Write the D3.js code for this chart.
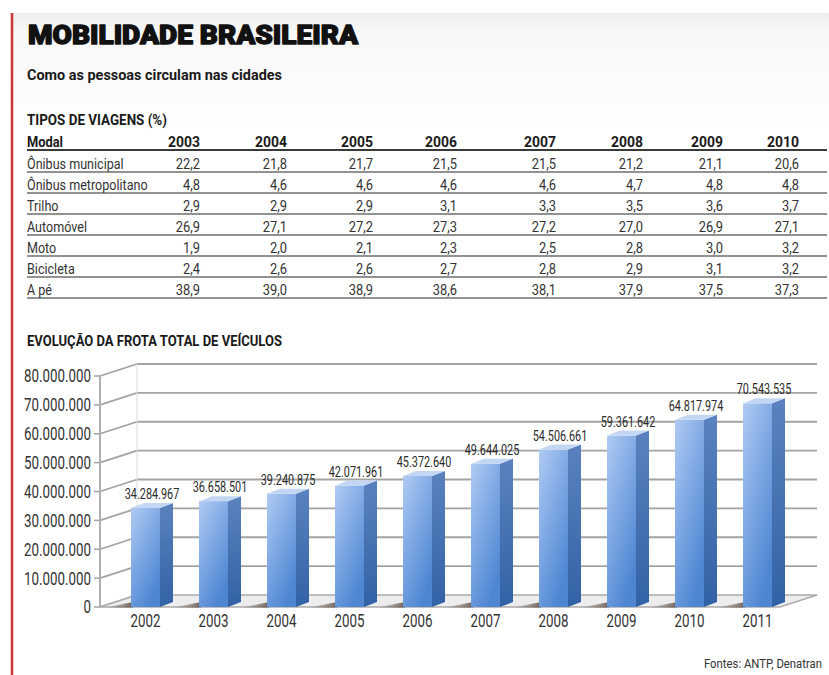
<!DOCTYPE html>
<html lang="pt-BR">
<head>
<meta charset="utf-8">
<script src="https://cdn.jsdelivr.net/npm/d3@7"></script>
<style>
  html, body { margin: 0; padding: 0; background: #ffffff; }
  svg { display: block; }
  text { font-family: Roboto, "Open Sans", "Liberation Sans", sans-serif; }
</style>
</head>
<body>
<svg id="chart" width="829" height="675"></svg>
<script>
// ---- Tipos de viagens (%) ----
const anos = ["2003", "2004", "2005", "2006", "2007", "2008", "2009", "2010"];
const modais = ["Ônibus municipal", "Ônibus metropolitano", "Trilho", "Automóvel", "Moto", "Bicicleta", "A pé"];
const onibusMunicipal     = [22.2, 21.8, 21.7, 21.5, 21.5, 21.2, 21.1, 20.6];
const onibusMetropolitano = [4.8, 4.6, 4.6, 4.6, 4.6, 4.7, 4.8, 4.8];
const trilho              = [2.9, 2.9, 2.9, 3.1, 3.3, 3.5, 3.6, 3.7];
const automovel           = [26.9, 27.1, 27.2, 27.3, 27.2, 27.0, 26.9, 27.1];
const moto                = [1.9, 2.0, 2.1, 2.3, 2.5, 2.8, 3.0, 3.2];
const bicicleta           = [2.4, 2.6, 2.6, 2.7, 2.8, 2.9, 3.1, 3.2];
const aPe                 = [38.9, 39.0, 38.9, 38.6, 38.1, 37.9, 37.5, 37.3];

// ---- Evolução da frota total de veículos ----
const anosFrota = ["2002", "2003", "2004", "2005", "2006", "2007", "2008", "2009", "2010", "2011"];
const frota = [34284967, 36658501, 39240875, 42071961, 45372640, 49644025, 54506661, 59361642, 64817974, 70543535];
const ticksFrota = [0, 10000000, 20000000, 30000000, 40000000, 50000000, 60000000, 70000000, 80000000];

const linhasTabela = [onibusMunicipal, onibusMetropolitano, trilho, automovel, moto, bicicleta, aPe];

const br = d3.formatLocale({ decimal: ",", thousands: ".", grouping: [3], currency: ["R$", ""] });
const fmtInt = br.format(",d");
const fmtPct = br.format(".1f");

const svg = d3.select("#chart");
const defs = svg.append("defs");

// squeeze text horizontally to mimic a condensed face
function condense(sel, k) {
  sel.each(function () {
    const L = this.getComputedTextLength();
    this.setAttribute("textLength", (L * k).toFixed(2));
    this.setAttribute("lengthAdjust", "spacingAndGlyphs");
  });
}
function fitWidth(sel, w) {
  sel.attr("textLength", w).attr("lengthAdjust", "spacingAndGlyphs");
}

// page background and red rule
const bg = defs.append("linearGradient").attr("id", "bgTop").attr("x1", 0).attr("y1", 0).attr("x2", 0).attr("y2", 1);
bg.append("stop").attr("offset", 0).attr("stop-color", "#ededed");
bg.append("stop").attr("offset", 0.15).attr("stop-color", "#f7f7f7");
bg.append("stop").attr("offset", 1).attr("stop-color", "#ffffff");
svg.append("rect").attr("x", 12).attr("y", 13).attr("width", 817).attr("height", 120).attr("fill", "url(#bgTop)");
svg.append("line").attr("x1", 12).attr("x2", 12).attr("y1", 13).attr("y2", 675)
  .attr("stroke", "#c9373a").attr("stroke-width", 2.5);

// headings
const title = svg.append("text").attr("x", 28).attr("y", 44)
  .attr("font-family", "Inter, Roboto, sans-serif").attr("font-weight", 900).attr("font-size", 25)
  .attr("fill", "#111").attr("stroke", "#111").attr("stroke-width", 1.3).attr("stroke-linejoin", "round")
  .text("MOBILIDADE BRASILEIRA");
fitWidth(title, 330);

const sub = svg.append("text").attr("x", 27).attr("y", 80)
  .attr("font-weight", 700).attr("font-size", 14.5).attr("fill", "#1a1a1a")
  .text("Como as pessoas circulam nas cidades");
fitWidth(sub, 255);

const tipos = svg.append("text").attr("x", 27).attr("y", 125)
  .attr("font-weight", 700).attr("font-size", 14.5).attr("fill", "#1a1a1a")
  .text("TIPOS DE VIAGENS (%)");
fitWidth(tipos, 140);

// ---- table ----
const colX = d3.scaleOrdinal().domain(anos).range([200, 287, 373, 457, 556, 643, 723, 799]);
const rowY = d3.scaleBand().domain(modais).range([151, 298]);
const tableLeft = 27, tableRight = 827;

const head = svg.append("g");
const modalHead = head.append("text").attr("x", tableLeft).attr("y", 147)
  .attr("font-weight", 700).attr("font-size", 14.5).attr("fill", "#1a1a1a").text("Modal");
fitWidth(modalHead, 36);
head.selectAll("text.ano").data(anos).join("text").attr("class", "ano")
  .attr("x", d => colX(d)).attr("y", 147).attr("text-anchor", "end")
  .attr("font-weight", 700).attr("font-size", 14.5).attr("fill", "#1a1a1a")
  .text(d => d)
  .call(condense, 0.96);
svg.append("line").attr("x1", tableLeft).attr("x2", tableRight).attr("y1", 150).attr("y2", 150)
  .attr("stroke", "#3a3a3a").attr("stroke-width", 1.8);

const rows = svg.selectAll("g.row").data(modais).join("g").attr("class", "row");
rows.append("line")
  .attr("x1", tableLeft).attr("x2", tableRight)
  .attr("y1", d => rowY(d) + rowY.bandwidth()).attr("y2", d => rowY(d) + rowY.bandwidth())
  .attr("stroke", "#6e6e6e").attr("stroke-width", 1.5);
rows.append("text")
  .attr("x", tableLeft).attr("y", d => rowY(d) + rowY.bandwidth() - 3)
  .attr("font-size", 15.5).attr("fill", "#333")
  .text(d => d)
  .call(condense, 0.81);
rows.each(function (m, i) {
  d3.select(this).selectAll("text.val").data(linhasTabela[i]).join("text").attr("class", "val")
    .attr("x", (v, j) => colX(anos[j])).attr("y", rowY(m) + rowY.bandwidth() - 3)
    .attr("text-anchor", "end").attr("font-size", 15.5).attr("fill", "#333")
    .text(v => fmtPct(v))
    .call(condense, 0.83);
});

// ---- 3D column chart ----
const chartTitle = svg.append("text").attr("x", 27).attr("y", 346)
  .attr("font-weight", 700).attr("font-size", 14.5).attr("fill", "#1a1a1a")
  .text("EVOLUÇÃO DA FROTA TOTAL DE VEÍCULOS");
fitWidth(chartTitle, 255);

const y = d3.scaleLinear().domain([0, 80000000]).range([607, 376]);
const x = d3.scaleBand().domain(anosFrota).range([97, 806]).paddingInner(0.5735).paddingOuter(0.5);

const axisX = 100;               // front edge of the left wall
const wallDX = 37, wallDY = 12;  // depth offset of the back wall
const backRight = 817;
const barDX = 13, barDY = 5;     // depth of each column

// back wall gridlines and left wall slants
const grid = svg.append("g");
grid.selectAll("line.back").data(ticksFrota.filter(t => t > 0)).join("line").attr("class", "back")
  .attr("x1", axisX + wallDX).attr("x2", backRight)
  .attr("y1", t => y(t) - wallDY).attr("y2", t => y(t) - wallDY)
  .attr("stroke", "#a3a3a3").attr("stroke-width", 1.8);
grid.selectAll("line.slant").data(ticksFrota).join("line").attr("class", "slant")
  .attr("x1", axisX).attr("x2", axisX + wallDX)
  .attr("y1", t => y(t)).attr("y2", t => y(t) - wallDY)
  .attr("stroke", "#a3a3a3").attr("stroke-width", 1.8);
grid.selectAll("line.tick").data(ticksFrota).join("line").attr("class", "tick")
  .attr("x1", axisX - 6).attr("x2", axisX)
  .attr("y1", t => y(t)).attr("y2", t => y(t))
  .attr("stroke", "#a3a3a3").attr("stroke-width", 1.5);
grid.append("line").attr("x1", axisX).attr("x2", axisX)
  .attr("y1", y(80000000)).attr("y2", y(0))
  .attr("stroke", "#b0b0b0").attr("stroke-width", 2);
grid.append("line").attr("x1", axisX + wallDX).attr("x2", axisX + wallDX)
  .attr("y1", y(80000000) - wallDY).attr("y2", y(0) - wallDY)
  .attr("stroke", "#dddddd").attr("stroke-width", 1);

// floor
const y0 = y(0);
svg.append("path")
  .attr("d", `M${axisX},${y0} L${backRight - wallDX},${y0} L${backRight},${y0 - wallDY} L${axisX + wallDX},${y0 - wallDY} Z`)
  .attr("fill", "#ededed").attr("stroke", "#ababab").attr("stroke-width", 1.4);

// gradients for column faces
const gFront = defs.append("linearGradient").attr("id", "front").attr("x1", 0).attr("y1", 0).attr("x2", 0.6).attr("y2", 1);
gFront.append("stop").attr("offset", 0).attr("stop-color", "#b0cbf2");
gFront.append("stop").attr("offset", 0.5).attr("stop-color", "#7ea8e4");
gFront.append("stop").attr("offset", 1).attr("stop-color", "#4f86d2");
const gSide = defs.append("linearGradient").attr("id", "side").attr("x1", 0).attr("y1", 0).attr("x2", 0).attr("y2", 1);
gSide.append("stop").attr("offset", 0).attr("stop-color", "#5a82bf");
gSide.append("stop").attr("offset", 1).attr("stop-color", "#3262a6");
const gShadow = defs.append("linearGradient").attr("id", "shadow").attr("x1", 0).attr("y1", 0).attr("x2", 1).attr("y2", 0);
gShadow.append("stop").attr("offset", 0).attr("stop-color", "#5b4a3e").attr("stop-opacity", 0);
gShadow.append("stop").attr("offset", 1).attr("stop-color", "#5b4a3e").attr("stop-opacity", 0.85);

const cols = svg.selectAll("g.col").data(anosFrota.map((a, i) => ({ ano: a, v: frota[i] })))
  .join("g").attr("class", "col");

cols.append("path").attr("fill", "url(#shadow)")
  .attr("d", d => {
    const x0 = x(d.ano);
    return `M${x0 - 26},${y0 + 0.5} L${x0 + 2},${y0 + 0.5} L${x0 + 2},${y0 - barDY} Z`;
  });
cols.append("path").attr("fill", "url(#side)")
  .attr("d", d => {
    const x1 = x(d.ano) + x.bandwidth(), yt = y(d.v);
    return `M${x1},${yt} L${x1 + barDX},${yt - barDY} L${x1 + barDX},${y0 - barDY} L${x1},${y0} Z`;
  });
cols.append("rect").attr("fill", "url(#front)")
  .attr("x", d => x(d.ano)).attr("width", x.bandwidth())
  .attr("y", d => y(d.v)).attr("height", d => y0 - y(d.v));
cols.append("path").attr("fill", "#c3d7f4")
  .attr("d", d => {
    const x0 = x(d.ano), x1 = x0 + x.bandwidth(), yt = y(d.v);
    return `M${x0},${yt} L${x1},${yt} L${x1 + barDX},${yt - barDY} L${x0 + barDX},${yt - barDY} Z`;
  });

// value labels above the columns
cols.append("text")
  .attr("x", d => x(d.ano) + (x.bandwidth() + barDX) / 2)
  .attr("y", d => y(d.v) - barDY - 4)
  .attr("text-anchor", "middle").attr("font-size", 15.5).attr("fill", "#2a2a2a")
  .text(d => fmtInt(d.v))
  .call(condense, 0.7);

// year labels
svg.selectAll("text.year").data(anosFrota).join("text").attr("class", "year")
  .attr("x", d => x(d) + x.bandwidth() / 2).attr("y", 627)
  .attr("text-anchor", "middle").attr("font-size", 18).attr("fill", "#333")
  .text(d => d)
  .call(condense, 0.74);

// y axis labels
svg.selectAll("text.ylab").data(ticksFrota).join("text").attr("class", "ylab")
  .attr("x", 91).attr("y", t => y(t)).attr("dy", "0.36em")
  .attr("text-anchor", "end").attr("font-size", 18).attr("fill", "#333")
  .text(t => fmtInt(t))
  .call(condense, 0.74);

// source, narrowed with a horizontal scale anchored at its right end
svg.append("g").attr("transform", "translate(822,668) scale(0.84,1)")
  .append("text").attr("x", 0).attr("y", 0).attr("text-anchor", "end")
  .attr("font-size", 13.5).attr("fill", "#333").text("Fontes: ANTP, Denatran");
</script>
</body>
</html>
